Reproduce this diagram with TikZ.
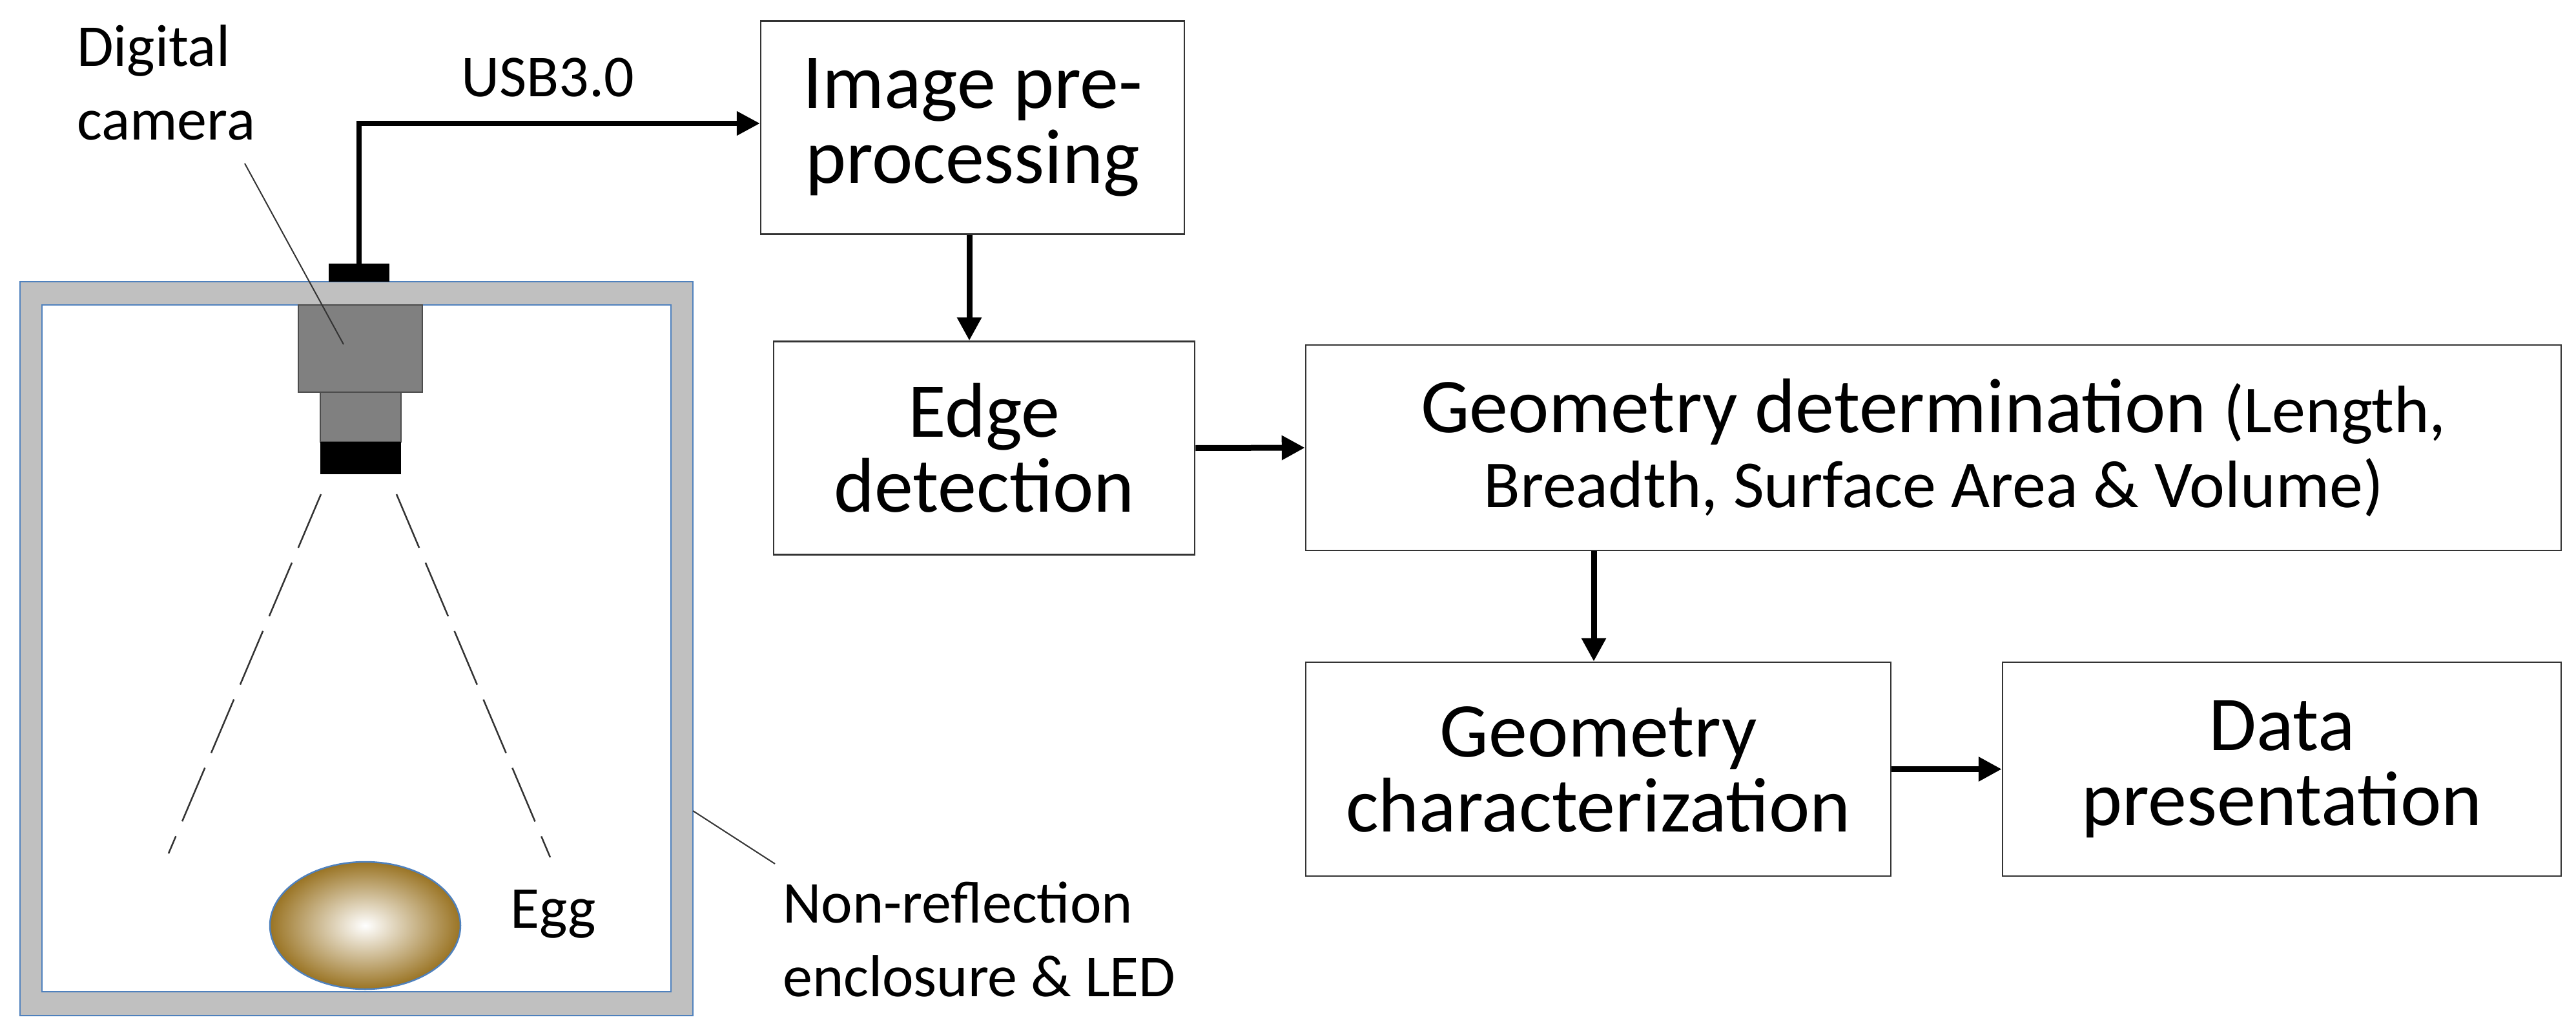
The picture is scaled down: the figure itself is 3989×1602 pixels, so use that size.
\documentclass[tikz,border=0pt]{standalone}
\usepackage{fontspec}
\setmainfont{Carlito}
\usetikzlibrary{arrows.meta}
\definecolor{encl}{HTML}{C0C0C0}
\definecolor{eblue}{HTML}{4F81BD}
\definecolor{eggc}{HTML}{9A7424}
\begin{document}
\begin{tikzpicture}[x=1pt,y=-1pt,
  box/.style={draw=black!80,line width=2.5pt,minimum width=#1,minimum height=330pt,align=center,inner sep=0pt,font=\fontsize{120}{116}\selectfont},
  arr/.style={line width=9pt,-{Triangle[length=36pt,width=36pt]}},
  lead/.style={line width=2pt,black!80},
  lbl/.style={align=left,font=\fontsize{92}{114}\selectfont,inner sep=0pt}]
\useasboundingbox (0,0) rectangle (3989,1602);
% enclosure
\draw[eblue,line width=2.5pt,fill=encl] (31,436) rectangle (1073,1572);
\draw[eblue,line width=2.5pt,fill=white] (65,472) rectangle (1039,1535);
% camera
\fill[black] (509,408) rectangle (603,436);
\draw[black!70,line width=2pt,fill=black!50] (462,472) rectangle (654,607);
\draw[black!70,line width=2pt,fill=black!50] (496,607) rectangle (621,684);
\fill[black] (496,684) rectangle (621,734);
\coordinate (cam) at (556,408);
\coordinate (camc) at (532,533);
% light cone
\draw[dash pattern=on 90pt off 25pt,line width=2.5pt,black!80] (497,765) -- (261,1321);
\draw[dash pattern=on 90pt off 25pt,line width=2.5pt,black!80] (614,765) -- (852,1327);
% egg
\shade[inner color=white,outer color=eggc] (565.5,1432.5) ellipse [x radius=147.5,y radius=98.5];
\draw[eblue,line width=2.5pt] (565.5,1432.5) ellipse [x radius=147.5,y radius=98.5];
\node[lbl,anchor=west] (egg) at (790,1415) {Egg};
% labels
\node[lbl,anchor=north west] (dc) at (119,38) {Digital\\camera};
\draw[lead] (379,253) -- (camc);
\node[lbl,anchor=north west] (nr) at (1212,1365) {Non-reflection\\enclosure \& LED};
\coordinate (encR) at (1073,1255);
\draw[lead] (encR) -- (1200,1337);
% boxes
\node[box=656pt] (ip) at (1506,197.5) {Image pre-\\processing};
\node[box=652pt] (ed) at (1524,693.5) {Edge\\detection};
\node[box=1944pt,minimum height=318pt] (gd) at (2994,693) {Geometry determination {\fontsize{104}{116}\selectfont(Length,}\\{\fontsize{104}{116}\selectfont Breadth, Surface Area \& Volume)}};
\node[box=906pt,minimum height=331pt] (gc) at (2475,1190.5) {Geometry\\characterization};
\node[box=865pt,minimum height=331pt] (dp) at (3533.5,1190.5) {Data\\presentation};
% connectors
\draw[arr,line width=8pt] (cam) -- (556,191) -- (ip.west |- 0,191);
\node[lbl,anchor=center] (usb) at (848,120) {USB3.0};
\draw[arr] (ip.south -| 1501,0) -- (ed.north -| 1501,0);
\draw[arr] (ed.east) -- (gd.west);
\draw[arr] (gd.south -| 2468,0) -- (gc.north -| 2468,0);
\draw[arr] (gc.east) -- (dp.west);
\end{tikzpicture}
\end{document}
